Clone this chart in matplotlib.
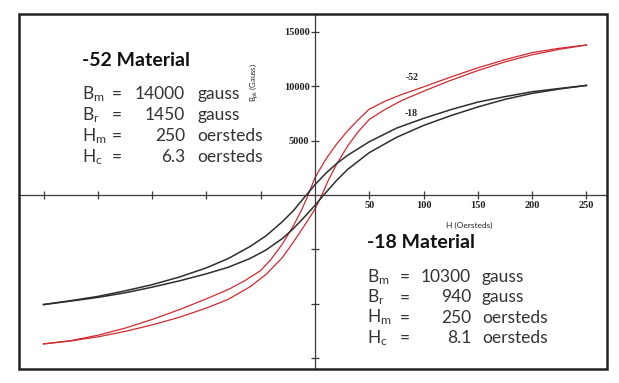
import matplotlib.pyplot as plt
from matplotlib.patches import Rectangle

plt.rcParams['font.family'] = ['Lato', 'DejaVu Sans']
plt.rcParams['mathtext.fontset'] = 'custom'
plt.rcParams['mathtext.rm'] = 'Lato'
plt.rcParams['mathtext.it'] = 'Lato:italic'

# -52 material (red loop): descending and ascending branches
h52_down = [-250, -225, -200, -175, -150, -125, -100, -80, -65, -50, -40, -30, -20, -12, -6.3,
            0, 10, 20, 30, 40, 50, 65, 80, 100, 125, 150, 175, 200, 225, 250]
b52_down = [-13700, -13400, -12900, -12250, -11450, -10550, -9550, -8700, -7900, -6950, -5850, -4500, -2850, -1300, 0,
            1600, 3300, 4700, 5900, 6950, 7900, 8650, 9250, 9950, 10850, 11700, 12450, 13100, 13500, 13800]
h52_up = [-250, -225, -200, -175, -150, -125, -100, -80, -60, -45, -30, -20, -10, 0,
          6.3, 12, 20, 30, 40, 50, 65, 80, 100, 125, 150, 175, 200, 225, 250]
b52_up = [-13700, -13430, -13050, -12550, -11950, -11250, -10400, -9600, -8450, -7300, -5750, -4350, -2850, -1300,
          0, 1300, 2850, 4500, 5850, 6950, 7900, 8700, 9550, 10550, 11450, 12250, 12900, 13400, 13800]

# -18 material (black loop)
h18_down = [-250, -225, -200, -175, -150, -125, -100, -80, -60, -45, -30, -20, -8,
            0, 10, 20, 30, 50, 75, 100, 125, 150, 175, 200, 225, 250]
b18_down = [-10080, -9720, -9330, -8820, -8250, -7550, -6700, -5850, -4750, -3750, -2450, -1450, 0,
            950, 2000, 2900, 3650, 4900, 6150, 7050, 7850, 8550, 9050, 9500, 9800, 10080]
h18_up = [-250, -225, -200, -175, -150, -125, -100, -80, -60, -45, -30, -20, -10, 0,
          8, 20, 30, 50, 75, 100, 125, 150, 175, 200, 225, 250]
b18_up = [-10080, -9760, -9420, -9000, -8480, -7900, -7250, -6650, -5850, -5050, -4000, -3100, -2050, -950,
          0, 1350, 2350, 3900, 5300, 6400, 7300, 8100, 8800, 9350, 9750, 10080]

x_ticks = [-250, -200, -150, -100, -50, 50, 100, 150, 200, 250]
x_labels = ['', '', '', '', '', '50', '100', '150', '200', '250']
y_ticks = [-15000, -10000, -5000, 5000, 10000, 15000]
y_labels = ['', '', '', '5000', '10000', '15000']

rows52 = [('B$_\\mathrm{m}$', '14000', 'gauss'), ('B$_\\mathrm{r}$', '1450', 'gauss'),
          ('H$_\\mathrm{m}$', '250', 'oersteds'), ('H$_\\mathrm{c}$', '6.3', 'oersteds')]
rows18 = [('B$_\\mathrm{m}$', '10300', 'gauss'), ('B$_\\mathrm{r}$', '940', 'gauss'),
          ('H$_\\mathrm{m}$', '250', 'oersteds'), ('H$_\\mathrm{c}$', '8.1', 'oersteds')]

W, H = 619, 383
fig = plt.figure(figsize=(W / 100, H / 100), dpi=100)
fig.patch.set_facecolor('white')


def fx(px):
    return px / W


def fy(py):
    return 1 - py / H


ax = fig.add_axes([fx(19), fy(369), 588 / W, 355 / H])
ax.set_xlim(-272.6, 268.9)
ax.set_ylim(-16007, 16651)
for s in ['top', 'right']:
    ax.spines[s].set_visible(False)
for s in ['left', 'bottom']:
    ax.spines[s].set_position(('data', 0))
    ax.spines[s].set_color('#3a3a3a')
    ax.spines[s].set_linewidth(0.9)

ax.set_xticks(x_ticks, x_labels)
ax.set_yticks(y_ticks, y_labels)
ax.tick_params(direction='inout', length=6, width=0.9, color='#3a3a3a')
ax.tick_params(axis='x', pad=1.5)
ax.tick_params(axis='y', pad=1.0)
for lab in ax.get_xticklabels() + ax.get_yticklabels():
    lab.set_fontfamily('Liberation Serif')
    lab.set_fontweight('bold')
    lab.set_fontsize(7.5)
    lab.set_color('#222222')

red = '#d02a30'
blk = '#2e2e2e'
ax.plot(h52_down, b52_down, color=red, lw=0.9)
ax.plot(h52_up, b52_up, color=red, lw=0.9)
ax.plot(h18_down, b18_down, color=blk, lw=1.1)
ax.plot(h18_up, b18_up, color=blk, lw=1.1)

# frame
fig.patches.append(Rectangle((fx(19), fy(369)), 588 / W, 355 / H, transform=fig.transFigure,
                             fill=False, lw=1.8, edgecolor='#222222'))

# curve labels
fig.text(fx(412), fy(77), '-52', fontsize=7, fontfamily='Liberation Serif', fontweight='bold',
         ha='center', va='center', color='#222222')
fig.text(fx(411), fy(114), '-18', fontsize=7, fontfamily='Liberation Serif', fontweight='bold',
         ha='center', va='center', color='#222222')

# axis titles
fig.text(fx(254), fy(83), 'B$_\\mathrm{pk}$ (Gauss)', fontsize=5.5, rotation=90,
         ha='center', va='center', color='#222222')
fig.text(fx(469), fy(225), 'H (Oersteds)', fontsize=6, ha='center', va='center', color='#222222')


def block(title, rows, x0, ytitle, y1, dy, xeq, xnum, xunit):
    fig.text(fx(x0), fy(ytitle), title, fontsize=14, fontweight='bold', ha='left',
             va='baseline', color='#111111')
    for i, (sym, num, unit) in enumerate(rows):
        yb = fy(y1 + i * dy)
        fig.text(fx(x0), yb, sym, fontsize=12.5, ha='left', va='baseline', color='#333333')
        fig.text(fx(xeq), yb, '=', fontsize=12.5, ha='center', va='baseline', color='#333333')
        fig.text(fx(xnum), yb, num, fontsize=12.5, ha='right', va='baseline', color='#333333')
        fig.text(fx(xunit), yb, unit, fontsize=12.5, ha='left', va='baseline', color='#333333')


block('-52 Material', rows52, 82, 66, 99, 21, 117, 185, 197)
block('-18 Material', rows18, 367, 248, 282, 20.3, 405, 471, 482)

fig.savefig('out.png', dpi=100)
